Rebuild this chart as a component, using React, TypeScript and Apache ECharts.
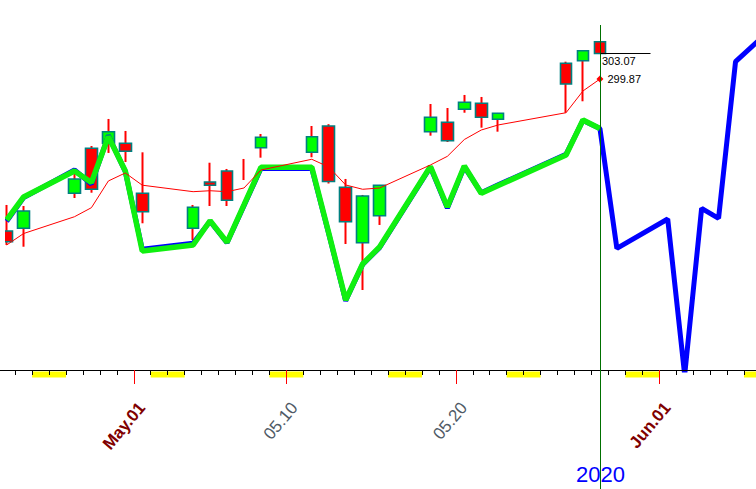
import React, { useEffect, useRef } from 'react';
import * as echarts from 'echarts';

// All calendar days shown on the x axis (2020)
const days = [
  '04-23','04-24','04-25','04-26','04-27','04-28','04-29','04-30',
  '05-01','05-02','05-03','05-04','05-05','05-06','05-07','05-08','05-09','05-10',
  '05-11','05-12','05-13','05-14','05-15','05-16','05-17','05-18','05-19','05-20',
  '05-21','05-22','05-23','05-24','05-25','05-26','05-27','05-28','05-29','05-30','05-31',
  '06-01','06-02','06-03','06-04','06-05','06-06','06-07','06-08','06-09',
];

const weekends = ['04-25','04-26','05-02','05-03','05-09','05-10','05-16','05-17','05-23','05-24','05-30','05-31','06-06','06-07'];

// Trading days with candles
const tradeDays = ['04-23','04-24','04-27','04-28','04-29','04-30','05-01','05-04','05-05','05-06','05-07','05-08',
  '05-11','05-12','05-13','05-14','05-15','05-18','05-19','05-20','05-21','05-22','05-26','05-27','05-28'];
const opens  = [280.88,281.21,285.59,291.21,291.84,291.84,285.59,281.21,287.00,288.38,288.50,291.29,290.71,294.00,286.34,279.41,282.79,293.29,294.46,296.09,296.84,294.84,301.84,302.16,304.54];
const closes = [279.54,283.38,287.38,286.09,293.29,290.84,283.29,283.84,286.59,284.71,288.50,292.59,292.66,287.06,282.04,285.25,286.59,295.09,292.16,296.96,295.09,295.59,299.25,303.41,303.07];
const lows   = [279.13,278.91,285.00,285.66,290.63,289.50,281.84,279.75,284.00,284.00,287.25,290.04,290.09,286.81,279.25,273.50,281.63,292.79,292.00,295.66,293.79,293.29,295.66,297.09,303.07];
const highs  = [284.13,284.00,288.25,291.50,294.88,293.38,290.71,284.13,289.41,288.63,289.88,293.00,294.00,294.23,287.38,285.38,286.63,296.75,296.25,297.88,297.63,295.63,302.04,303.41,304.54];
const maValues = [279.13,280.56,282.66,283.79,287.13,288.13,286.60,285.79,285.91,285.79,286.25,288.50,289.84,288.88,286.63,286.09,286.25,289.13,290.21,292.31,293.50,294.13,295.66,298.38,299.87];
const greenValues = [282.25,285.13,288.38,286.94,292.69,288.38,278.38,279.13,282.16,279.46,284.13,288.84,288.84,280.63,272.25,276.75,278.88,288.94,283.88,289.00,285.59,286.56,290.38,294.75,293.69];

// Blue projection line (overlaps green, then continues)
const blueDays = [...tradeDays, '05-29','06-01','06-02','06-03','06-04','06-05','06-08'];
const blueValues = [282.10,285.05,288.50,286.75,292.80,288.30,278.60,279.35,282.10,279.40,284.05,288.70,288.70,280.55,272.15,276.70,278.80,288.85,283.75,288.90,285.65,286.65,290.45,294.70,293.69,
  278.71,282.38,262.88,283.71,282.46,302.04,307.88];

// Date labels
const labelDays = ['05-01','05-10','05-20','06-01'];
const labelTexts = ['May.01','05.10','05.20','Jun.01'];
const labelKinds = ['month','day','day','month'];

const Y_MIN = 263.5;
const Y_MAX = 309.75;

function align(keys: string[], vals: any[]) {
  return days.map((d) => {
    const k = keys.indexOf(d);
    return k >= 0 ? vals[k] : '-';
  });
}

export default function App() {
  const ref = useRef<HTMLDivElement>(null);
  useEffect(() => {
    if (!ref.current) return;
    const chart = echarts.init(ref.current, undefined, { renderer: 'svg' });
    const wickData = align(tradeDays, tradeDays.map((_, i) => [opens[i], closes[i], lows[i], highs[i]]));
    const bodyData = align(tradeDays, tradeDays.map((_, i) =>
      opens[i] === closes[i] ? '-' : [opens[i], closes[i], Math.min(opens[i], closes[i]), Math.max(opens[i], closes[i])]));
    const maData = align(tradeDays, maValues);
    const greenData = align(tradeDays, greenValues);
    const blueData = align(blueDays, blueValues);
    const weekendData = days.map((d) => (weekends.includes(d) ? 1 : '-'));
    const labelIdx = labelDays.map((d) => days.indexOf(d));
    const lastIdx = days.indexOf(tradeDays[tradeDays.length - 1]);
    const lastClose = closes[closes.length - 1];
    const lastMa = maValues[maValues.length - 1];

    const gridLeft = -1.8;
    const gridWidth = days.length * 16.95;

    chart.setOption({
      animation: false,
      grid: [
        { left: gridLeft, width: gridWidth, top: 0, height: 370, outerBoundsMode: 'none', containLabel: false },
        { left: gridLeft, width: gridWidth, top: 371.5, height: 6, outerBoundsMode: 'none', containLabel: false },
      ],
      xAxis: [
        {
          type: 'category', gridIndex: 0, data: days, boundaryGap: true, position: 'bottom', z: 5,
          axisLine: { onZero: false, lineStyle: { color: '#000', width: 1 } },
          axisTick: { show: true, interval: 0, length: 5, lineStyle: { color: '#000', width: 1 } },
          axisLabel: { show: false },
          splitLine: { show: false },
        },
        {
          type: 'value', gridIndex: 0, min: 0, max: days.length, position: 'bottom', z: 6,
          axisLine: { show: false, onZero: false },
          splitLine: { show: false },
          axisTick: { show: true, customValues: labelIdx, length: 14, lineStyle: { color: '#ff0000', width: 1 } },
          axisLabel: {
            show: true, customValues: labelIdx, rotate: 50, margin: 28, hideOverlap: false,
            verticalAlign: 'top', padding: [2, 0, 0, 0],
            formatter: (v: number) => {
              const k = labelIdx.indexOf(Math.round(v));
              return k >= 0 ? `{${labelKinds[k]}|${labelTexts[k]}}` : '';
            },
            rich: {
              month: { color: '#800000', fontWeight: 'bold', fontSize: 17, fontFamily: 'Arial, Liberation Sans' },
              day: { color: '#4f5a66', fontSize: 17, fontFamily: 'Arial, Liberation Sans' },
            },
          },
        },
        {
          type: 'category', gridIndex: 1, data: days, boundaryGap: true, show: false,
        },
      ],
      yAxis: [
        { type: 'value', gridIndex: 0, min: Y_MIN, max: Y_MAX, show: false, splitLine: { show: false } },
        { type: 'value', gridIndex: 1, min: 0, max: 1, show: false, splitLine: { show: false } },
      ],
      series: [
        {
          name: 'weekend', type: 'bar', xAxisIndex: 2, yAxisIndex: 1, data: weekendData,
          barWidth: '100%', barCategoryGap: '0%', itemStyle: { color: '#ffff00' }, z: 1, silent: true,
        },
        {
          name: 'wick', type: 'candlestick', xAxisIndex: 0, yAxisIndex: 0, data: wickData, barWidth: 1,
          itemStyle: { color: '#ff0000', color0: '#ff0000', borderColor: '#ff0000', borderColor0: '#ff0000', borderColorDoji: '#ff0000', borderWidth: 2 },
          z: 2,
        },
        {
          name: 'body', type: 'candlestick', xAxisIndex: 0, yAxisIndex: 0, data: bodyData, barWidth: 12,
          itemStyle: { color: '#00ff00', color0: '#ff0000', borderColor: '#008080', borderColor0: '#008080', borderColorDoji: '#008080', borderWidth: 1.6 },
          z: 3,
        },
        {
          name: 'projection', type: 'line', xAxisIndex: 0, yAxisIndex: 0, data: blueData, connectNulls: true,
          symbol: 'none', lineStyle: { color: '#0000ff', width: 5 }, z: 4,
        },
        {
          name: 'cycle', type: 'line', xAxisIndex: 0, yAxisIndex: 0, data: greenData, connectNulls: true,
          symbol: 'none', lineStyle: { color: '#10f010', width: 5.5 }, z: 5,
        },
        {
          name: 'ma', type: 'line', xAxisIndex: 0, yAxisIndex: 0, data: maData, connectNulls: true,
          symbol: 'none', lineStyle: { color: '#ff0000', width: 1 }, z: 6,
          markPoint: {
            symbol: 'diamond', symbolSize: 7,
            itemStyle: { color: '#ff0000' },
            label: {
              show: true, position: 'right', distance: 4, color: '#000', fontSize: 11,
              fontFamily: 'Arial, Liberation Sans', formatter: (p: any) => Number(p.value).toFixed(2),
            },
            data: [{ coord: [lastIdx, lastMa], value: lastMa }],
          },
        },
      ],
    });

    const pt = chart.convertToPixel({ gridIndex: 0 }, [lastIdx, lastClose]) as number[];
    const cx = Math.round(pt[0]) + 0.5;
    const cy = Math.round(pt[1]) + 0.5;
    chart.setOption({
      graphic: [
        { type: 'rect', z: 50, shape: { x: 0, y: 0, width: 5, height: 369 }, style: { fill: '#ffffff' } },
        { type: 'line', z: 60, shape: { x1: cx, y1: 25, x2: cx, y2: 489 }, style: { stroke: '#007000', lineWidth: 1 } },
        { type: 'line', z: 60, shape: { x1: cx, y1: cy, x2: cx + 50, y2: cy }, style: { stroke: '#000000', lineWidth: 1 } },
        {
          type: 'text', z: 60, x: cx + 1.5, y: cy + 7.5,
          style: { text: lastClose.toFixed(2), fill: '#000', fontSize: 11, fontFamily: 'Arial, Liberation Sans', verticalAlign: 'middle' },
        },
        {
          type: 'text', z: 55, x: cx, y: 474,
          style: { text: '2020', fill: '#0000ff', fontSize: 22, fontFamily: 'Arial, Liberation Sans', align: 'center', verticalAlign: 'middle' },
        },
      ],
    });

    return () => chart.dispose();
  }, []);
  return <div ref={ref} style={{ position: 'absolute', left: 0, top: 0, width: 756, height: 489 }} />;
}
